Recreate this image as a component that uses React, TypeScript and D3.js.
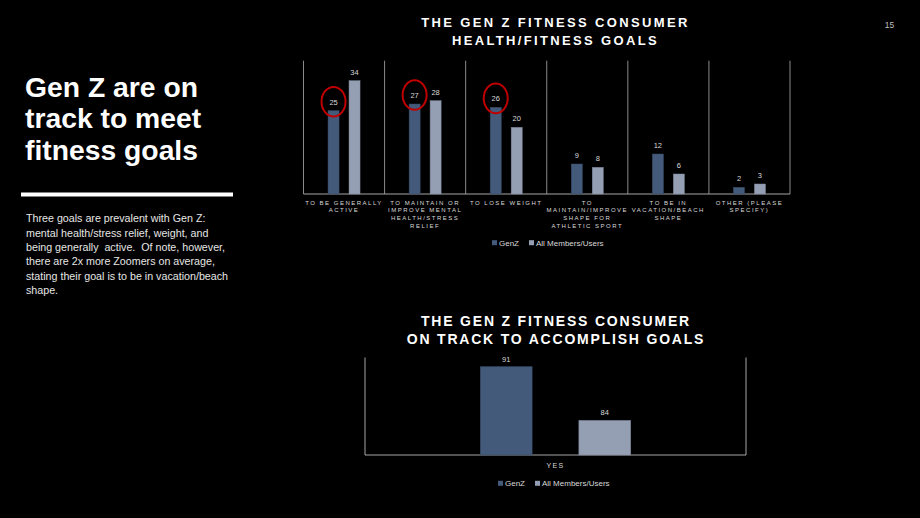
import React from "react";
import * as d3 from "d3";

const W = 920;
const H = 518;

const series = ["GenZ", "All Members/Users"];
const seriesColors = ["#445a7b", "#959fb4"];

const goalCategories = [
  ["TO BE GENERALLY", "ACTIVE"],
  ["TO MAINTAIN OR", "IMPROVE MENTAL", "HEALTH/STRESS", "RELIEF"],
  ["TO LOSE WEIGHT"],
  ["TO", "MAINTAIN/IMPROVE", "SHAPE FOR", "ATHLETIC SPORT"],
  ["TO BE IN", "VACATION/BEACH", "SHAPE"],
  ["OTHER (PLEASE", "SPECIFY)"],
];
const goalGenZ = [25, 27, 26, 9, 12, 2];
const goalAll = [34, 28, 20, 8, 6, 3];
const highlighted = [0, 1, 2];

const trackCategories = ["YES"];
const trackGenZ = [91];
const trackAll = [84];

const headline = ["Gen Z are on", "track to meet", "fitness goals"];
const bodyLines = [
  "Three goals are prevalent with Gen Z:",
  "mental health/stress relief, weight, and",
  "being generally  active.  Of note, however,",
  "there are 2x more Zoomers on average,",
  "stating their goal is to be in vacation/beach",
  "shape.",
];
const title1 = ["THE GEN Z FITNESS CONSUMER", "HEALTH/FITNESS GOALS"];
const title2 = ["THE GEN Z FITNESS CONSUMER", "ON TRACK TO ACCOMPLISH GOALS"];

const FONT = "'Liberation Sans', Arial, Helvetica, sans-serif";

function Legend({ x, y }: { x: number; y: number }) {
  const offsets = [0, 37];
  return (
    <g transform={`translate(${x},${y})`}>
      {series.map((s, i) => (
        <g key={s} transform={`translate(${offsets[i]},0)`}>
          <rect x={0} y={-2.5} width={5} height={5} fill={seriesColors[i]} />
          <text x={7} y={3} fontSize={8} fill="#d9d9d9" fontFamily={FONT}>
            {s}
          </text>
        </g>
      ))}
    </g>
  );
}

export default function App() {
  // Top chart
  const t = { left: 303.5, right: 790, top: 60.7, bottom: 194 };
  const x1 = d3
    .scaleBand<number>()
    .domain(goalCategories.map((_, i) => i))
    .range([t.left, t.right])
    .padding(0);
  const xs1 = d3
    .scaleBand<number>()
    .domain([0, 1])
    .range([0, x1.bandwidth()])
    .paddingInner(0.475)
    .paddingOuter(1.17);
  const y1 = d3.scaleLinear().domain([0, 40]).range([t.bottom, t.top]);
  const goalVals = [goalGenZ, goalAll];

  // Bottom chart
  const b = { left: 365, right: 746, top: 357.5, bottom: 455 };
  const x2 = d3
    .scaleBand<number>()
    .domain(trackCategories.map((_, i) => i))
    .range([b.left, b.right])
    .padding(0);
  const xs2 = d3
    .scaleBand<number>()
    .domain([0, 1])
    .range([0, x2.bandwidth()])
    .paddingInner(0.475)
    .paddingOuter(1.17);
  const y2 = d3.scaleLinear().domain([79.5, 92.2]).range([b.bottom, b.top]);
  const trackVals = [trackGenZ, trackAll];

  return (
    <svg
      width={W}
      height={H}
      viewBox={`0 0 ${W} ${H}`}
      style={{ position: "fixed", left: 0, top: 0, background: "#000" }}
    >
      <rect x={0} y={0} width={W} height={H} fill="#000" />

      {/* Left panel */}
      {headline.map((l, i) => (
        <text
          key={i}
          x={25}
          y={97 + i * 31.3}
          fontSize={28.3}
          fontWeight="bold"
          fill="#fff"
          fontFamily={FONT}
        >
          {l}
        </text>
      ))}
      <rect x={21} y={192.5} width={212} height={4} fill="#fff" />
      {bodyLines.map((l, i) => (
        <text
          key={i}
          x={26}
          y={222.3 + i * 14.35}
          fontSize={10.7}
          fill="#e6e6e6"
          fontFamily={FONT}
          style={{ whiteSpace: "pre" }}
        >
          {l}
        </text>
      ))}

      <text x={889.5} y={28} fontSize={8.5} fill="#bfbfbf" textAnchor="middle" fontFamily={FONT}>
        15
      </text>

      {/* Top chart title */}
      {title1.map((l, i) => (
        <text
          key={i}
          x={555.5}
          y={26.7 + i * 18.5}
          fontSize={13}
          fontWeight="bold"
          fill="#fff"
          textAnchor="middle"
          fontFamily={FONT}
          letterSpacing={2.35}
        >
          {l}
        </text>
      ))}

      {/* Top chart grid */}
      {d3.range(goalCategories.length + 1).map((i) => {
        const xx = i < goalCategories.length ? x1(i)! : t.right;
        return (
          <line
            key={i}
            x1={xx}
            x2={xx}
            y1={t.top}
            y2={t.bottom}
            stroke="#8a8a8a"
            strokeWidth={1}
          />
        );
      })}
      <line x1={t.left} x2={t.right} y1={t.bottom} y2={t.bottom} stroke="#a6a6a6" strokeWidth={1} />

      {goalCategories.map((cat, ci) => (
        <g key={ci}>
          {goalVals.map((vals, si) => {
            const bx = x1(ci)! + xs1(si)!;
            const bw = xs1.bandwidth();
            const by = y1(vals[ci]);
            return (
              <g key={si}>
                <rect
                  x={bx}
                  y={by}
                  width={bw}
                  height={t.bottom - by}
                  fill={seriesColors[si]}
                  stroke={si === 0 ? "#3a4d69" : "#7f889b"}
                  strokeWidth={0.5}
                />
                <text
                  x={bx + bw / 2}
                  y={by - 6}
                  fontSize={7.5}
                  fill="#d9d9d9"
                  textAnchor="middle"
                  fontFamily={FONT}
                >
                  {vals[ci]}
                </text>
              </g>
            );
          })}
          {cat.map((l, li) => (
            <text
              key={li}
              x={x1(ci)! + x1.bandwidth() / 2}
              y={204.5 + li * 7.8}
              fontSize={6}
              fill="#d9d9d9"
              textAnchor="middle"
              fontFamily={FONT}
              letterSpacing={1.5}
            >
              {l}
            </text>
          ))}
        </g>
      ))}

      {highlighted.map((ci) => {
        const bx = x1(ci)! + xs1(0)! + xs1.bandwidth() / 2;
        const by = y1(goalGenZ[ci]);
        return (
          <ellipse
            key={ci}
            cx={bx}
            cy={by - 9}
            rx={12}
            ry={14.8}
            fill="none"
            stroke="#c00000"
            strokeWidth={2}
          />
        );
      })}

      <Legend x={492} y={242.7} />

      {/* Bottom chart */}
      {title2.map((l, i) => (
        <text
          key={i}
          x={556}
          y={326 + i * 17.5}
          fontSize={14}
          fontWeight="bold"
          fill="#fff"
          textAnchor="middle"
          fontFamily={FONT}
          letterSpacing={1.8}
        >
          {l}
        </text>
      ))}
      <line x1={b.left} x2={b.left} y1={b.top} y2={b.bottom} stroke="#a6a6a6" />
      <line x1={b.right} x2={b.right} y1={b.top} y2={b.bottom} stroke="#a6a6a6" />
      <line x1={b.left} x2={b.right} y1={b.bottom} y2={b.bottom} stroke="#a6a6a6" />

      {trackCategories.map((cat, ci) => (
        <g key={ci}>
          {trackVals.map((vals, si) => {
            const bx = x2(ci)! + xs2(si)!;
            const bw = xs2.bandwidth();
            const by = y2(vals[ci]);
            return (
              <g key={si}>
                <rect
                  x={bx}
                  y={by}
                  width={bw}
                  height={b.bottom - by}
                  fill={seriesColors[si]}
                  stroke={si === 0 ? "#3a4d69" : "#7f889b"}
                  strokeWidth={0.6}
                />
                <text
                  x={bx + bw / 2}
                  y={by - 5}
                  fontSize={7.5}
                  fill="#d9d9d9"
                  textAnchor="middle"
                  fontFamily={FONT}
                >
                  {vals[ci]}
                </text>
              </g>
            );
          })}
          <text
            x={x2(ci)! + x2.bandwidth() / 2}
            y={468}
            fontSize={7}
            fill="#d9d9d9"
            textAnchor="middle"
            fontFamily={FONT}
            letterSpacing={1.3}
          >
            {cat}
          </text>
        </g>
      ))}

      <Legend x={498} y={483.3} />
    </svg>
  );
}
